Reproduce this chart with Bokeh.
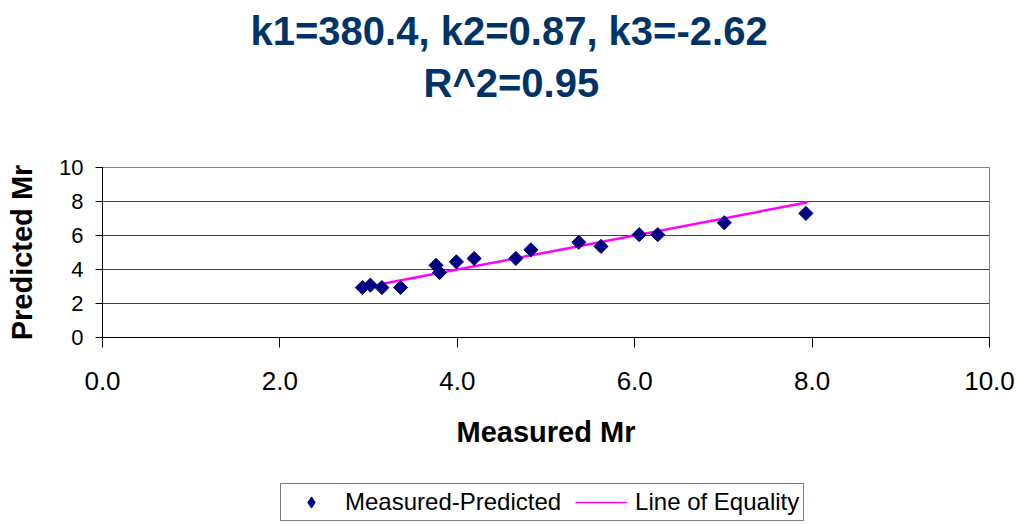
import math
from bokeh.plotting import figure
from bokeh.layouts import column
from bokeh.models import Range1d, Title, Legend, LegendItem, FixedTicker, NumeralTickFormatter
from bokeh.embed import file_html
from bokeh.resources import INLINE

# data
measured = [2.93, 3.02, 3.15, 3.36, 3.76, 3.80, 3.99, 4.19, 4.66, 4.83, 5.37, 5.62, 6.05, 6.26, 7.01, 7.93]
predicted = [2.94, 3.08, 2.94, 2.94, 4.25, 3.82, 4.45, 4.65, 4.65, 5.16, 5.60, 5.36, 6.05, 6.05, 6.75, 7.30]
equality_x = [3.10, 7.95]
equality_y = [3.10, 7.95]
x_ticks = [0, 2, 4, 6, 8, 10]
y_ticks = [0, 2, 4, 6, 8, 10]
title_line1 = "k1=380.4, k2=0.87, k3=-2.62"
title_line2 = "R^2=0.95"
series_names = ["Measured-Predicted", "Line of Equality"]

FONT = "Liberation Sans"
TITLE_COLOR = "#003366"
PT_COLOR = "#000080"
LINE_COLOR = "#FF00FF"

MAIN_H = 480
p = figure(width=1018, height=MAIN_H, output_backend="svg", toolbar_location=None,
           x_range=Range1d(0, 10), y_range=Range1d(0, 10),
           min_border_left=102, min_border_right=29,
           min_border_top=167, min_border_bottom=MAIN_H - 337,
           background_fill_color="white", border_fill_color="white")

p.outline_line_color = "#808080"
p.outline_line_width = 1

# titles: invisible spacer closest to frame, then line 2, then line 1
spacer = Title(text=".", align="left", text_font=FONT, text_font_size="10px",
               text_color="white", standoff=53)
t2 = Title(text=title_line2, align="left", offset=321, text_font=FONT, text_font_size="40px",
           text_font_style="bold", text_color=TITLE_COLOR, standoff=0)
t1 = Title(text=title_line1, align="left", offset=148, text_font=FONT, text_font_size="40px",
           text_font_style="bold", text_color=TITLE_COLOR, standoff=12)
p.add_layout(spacer, "above")
p.add_layout(t2, "above")
p.add_layout(t1, "above")

# axes
p.xaxis.ticker = FixedTicker(ticks=x_ticks)
p.xaxis.formatter = NumeralTickFormatter(format="0.0")
p.yaxis.ticker = FixedTicker(ticks=y_ticks)
p.xaxis.minor_tick_line_color = None
p.yaxis.minor_tick_line_color = None
p.xaxis.major_tick_in = 0
p.xaxis.major_tick_out = 10
p.yaxis.major_tick_in = 0
p.yaxis.major_tick_out = 7
p.xaxis.axis_line_color = "black"
p.yaxis.axis_line_color = "black"
p.xaxis.major_tick_line_color = "black"
p.yaxis.major_tick_line_color = "black"

p.xaxis.major_label_text_font = FONT
p.xaxis.major_label_text_font_size = "26px"
p.xaxis.major_label_text_color = "black"
p.xaxis.major_label_standoff = 24
p.yaxis.major_label_text_font = FONT
p.yaxis.major_label_text_font_size = "22px"
p.yaxis.major_label_text_color = "black"
p.yaxis.major_label_standoff = 12

p.xaxis.axis_label = "Measured Mr"
p.yaxis.axis_label = "Predicted Mr"
for ax in (p.xaxis, p.yaxis):
    ax.axis_label_text_font = FONT
    ax.axis_label_text_font_size = "29px"
    ax.axis_label_text_font_style = "bold"
    ax.axis_label_text_color = "black"
p.xaxis.axis_label_standoff = 23
p.yaxis.axis_label_standoff = 18

# grid
p.xgrid.grid_line_color = None
p.ygrid.ticker = FixedTicker(ticks=y_ticks)
p.ygrid.grid_line_color = "#404040"
p.ygrid.grid_line_width = 1

# data
p.line(equality_x, equality_y, line_color=LINE_COLOR, line_width=2.5)
p.scatter(measured, predicted, marker="square", size=10, angle=math.pi / 4,
          fill_color=PT_COLOR, line_color=PT_COLOR)

# legend strip (separate figure below the chart)
LEG_H = 524 - MAIN_H
lf = figure(width=1018, height=LEG_H, output_backend="svg", toolbar_location=None,
            x_range=Range1d(0, 1), y_range=Range1d(0, 1),
            min_border=0, background_fill_color="white", border_fill_color="white")
lf.axis.visible = False
lf.grid.visible = False
lf.outline_line_color = None
# same series, outside the strip's visible range: only their legend glyphs show
lr = lf.line(equality_x, equality_y, line_color=LINE_COLOR, line_width=1.5)
lp = lf.scatter(measured, predicted, marker="diamond", size=12,
                fill_color=PT_COLOR, line_color=PT_COLOR)

legend = Legend(items=[LegendItem(label=series_names[0], renderers=[lp]),
                       LegendItem(label=series_names[1], renderers=[lr])],
                orientation="horizontal", location=(178, 3),
                label_text_font=FONT, label_text_font_size="24px", label_text_color="black",
                glyph_width=52, glyph_height=28, label_standoff=8, spacing=14,
                padding=4, margin=0, label_height=24,
                border_line_color="black", border_line_width=1,
                background_fill_color="white", background_fill_alpha=1.0)
lf.add_layout(legend, "center")

layout = column(p, lf, spacing=0)
open("out.html", "w").write(file_html(layout, INLINE))
